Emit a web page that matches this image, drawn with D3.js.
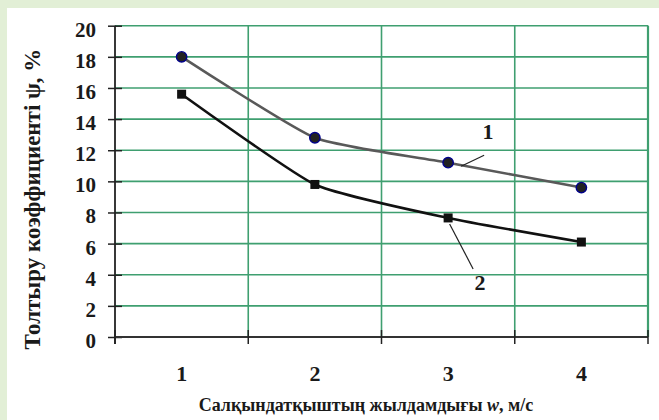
<!DOCTYPE html>
<html><head><meta charset="utf-8">
<script src="https://cdn.jsdelivr.net/npm/d3@7"></script>
<style>body{margin:0;background:#fff}svg{display:block}
.lbl{font-family:"Liberation Serif","Times New Roman",serif;font-weight:bold;fill:#1a1a1a}</style>
</head><body>
<script>
const categories = ["1", "2", "3", "4"];
const series1 = [18.0, 12.8, 11.2, 9.6];
const series2 = [15.6, 9.8, 7.65, 6.1];
const yTicks = [0, 2, 4, 6, 8, 10, 12, 14, 16, 18, 20];
const yTitle = "Толтыру коэффициенті ψ, %";
const xTitleA = "Салқындатқыштың жылдамдығы ";
const xTitleB = "w";
const xTitleC = ", м/с";

const W = 659, H = 420;
const m = {left: 115, right: 648, top: 25.7, bottom: 337};
const svg = d3.select("body").append("svg").attr("width", W).attr("height", H);
svg.append("rect").attr("width", W).attr("height", H).attr("fill", "#e2efd6");
svg.append("rect").attr("x", 7).attr("y", 8).attr("width", W - 7).attr("height", H - 8).attr("fill", "#fff");

const x = d3.scaleBand().domain(categories).range([m.left, m.right]);
const y = d3.scaleLinear().domain([0, 20]).range([m.bottom, m.top]);
const grid = "#3f9f70";

// horizontal grid
svg.append("g").selectAll("line").data(yTicks.filter(d => d > 0)).join("line")
  .attr("x1", m.left).attr("x2", m.right).attr("y1", d => y(d)).attr("y2", d => y(d))
  .attr("stroke", grid).attr("stroke-width", 1.6);
// vertical grid
const edges = categories.map(c => x(c)).concat([m.right]);
svg.append("g").selectAll("line").data(edges.slice(1)).join("line")
  .attr("x1", d => d).attr("x2", d => d).attr("y1", m.top).attr("y2", m.bottom)
  .attr("stroke", grid).attr("stroke-width", 1.6);
svg.append("line").attr("x1", m.right).attr("x2", m.right).attr("y1", m.top).attr("y2", m.bottom)
  .attr("stroke", grid).attr("stroke-width", 2.2);

// axes
const yAxis = d3.axisLeft(y).tickValues(yTicks).tickSize(7).tickPadding(12);
const gy = svg.append("g").attr("transform", `translate(${m.left},0)`).call(yAxis)
  .attr("font-family", null).attr("font-size", null);
gy.select(".domain").remove();
gy.selectAll(".tick line").attr("x1", -7).attr("x2", 7).attr("stroke", "#222").attr("stroke-width", 1.5);
gy.selectAll(".tick text").attr("class", "lbl").attr("fill", null)
  .style("font-size", "21px").attr("dy", "0.5em");
svg.append("line").attr("x1", m.left).attr("x2", m.left).attr("y1", m.top).attr("y2", m.bottom + 7)
  .attr("stroke", "#222").attr("stroke-width", 1.8);

svg.append("line").attr("x1", m.left).attr("x2", m.right).attr("y1", m.bottom).attr("y2", m.bottom)
  .attr("stroke", "#333").attr("stroke-width", 2);
svg.append("g").selectAll("line").data(edges).join("line")
  .attr("x1", d => d).attr("x2", d => d).attr("y1", m.bottom - 7).attr("y2", m.bottom + 7)
  .attr("stroke", "#222").attr("stroke-width", 1.5);
svg.append("g").selectAll("text").data(categories).join("text")
  .attr("class", "lbl").style("font-size", "22px")
  .attr("x", d => x(d) + x.bandwidth() / 2).attr("y", 381)
  .attr("text-anchor", "middle").text(d => d);

// titles
const xt = svg.append("text").attr("class", "lbl").style("font-size", "18px")
  .attr("x", 366).attr("y", 411).attr("text-anchor", "middle");
xt.append("tspan").text(xTitleA);
xt.append("tspan").attr("font-style", "italic").text(xTitleB);
xt.append("tspan").text(xTitleC);
svg.append("text").attr("class", "lbl").style("font-size", "23px")
  .attr("transform", "translate(40,199) rotate(-90)").attr("text-anchor", "middle")
  .text(yTitle);

// lines
const cx = (d, i) => x(categories[i]) + x.bandwidth() / 2;
const line = d3.line().x(cx).y(d => y(d)).curve(d3.curveCardinal.tension(0.5));
svg.append("path").datum(series1).attr("d", line).attr("fill", "none").attr("stroke", "#595959").attr("stroke-width", 2.6);
svg.append("path").datum(series2).attr("d", line).attr("fill", "none").attr("stroke", "#111").attr("stroke-width", 2.6);

svg.append("g").selectAll("circle").data(series1).join("circle")
  .attr("cx", cx).attr("cy", d => y(d)).attr("r", 5.2)
  .attr("fill", "#222").attr("stroke", "#00008b").attr("stroke-width", 1.4);
svg.append("g").selectAll("rect").data(series2).join("rect")
  .attr("x", (d, i) => cx(d, i) - 4.5).attr("y", d => y(d) - 4.5).attr("width", 9).attr("height", 9)
  .attr("fill", "#111");

// series labels with leader lines
svg.append("line").attr("x1", x("3") + x.bandwidth() / 2 + 13).attr("y1", y(series1[2]) + 3.5)
  .attr("x2", x("3") + x.bandwidth() / 2 + 36).attr("y2", y(series1[2]) - 7.5)
  .attr("stroke", "#222").attr("stroke-width", 1.2);
svg.append("text").attr("class", "lbl").style("font-size", "22px")
  .attr("x", 488).attr("y", 139).attr("text-anchor", "middle").text("1");
svg.append("line").attr("x1", x("3") + x.bandwidth() / 2 + 1.5).attr("y1", y(series2[2]) + 6)
  .attr("x2", x("3") + x.bandwidth() / 2 + 25).attr("y2", y(series2[2]) + 51)
  .attr("stroke", "#222").attr("stroke-width", 1.2);
svg.append("text").attr("class", "lbl").style("font-size", "22px")
  .attr("x", 480).attr("y", 290).attr("text-anchor", "middle").text("2");
</script>
</body></html>
